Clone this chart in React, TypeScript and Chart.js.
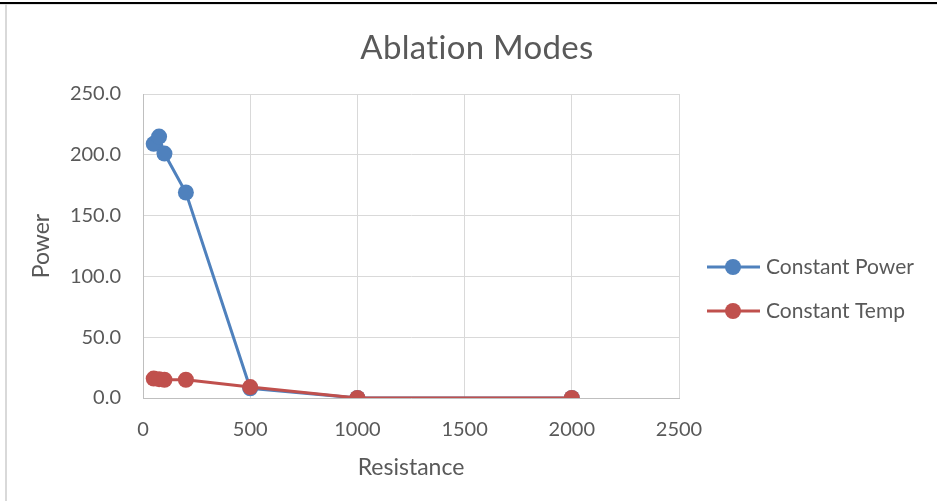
import React, { useEffect, useRef } from "react";
import { Chart, registerables } from "chart.js";

Chart.register(...registerables);

const resistance = [50, 75, 100, 200, 500, 1000, 2000];
const constantPower = [209, 215, 201, 169, 8, 0, 0];
const constantTemp = [16, 15.5, 15, 15, 9, 0, 0];
const seriesNames = ["Constant Power", "Constant Temp"];
const seriesColors = ["#4F81BD", "#C0504D"];
const chartTitle = "Ablation Modes";
const xTitle = "Resistance";
const yTitle = "Power";

const FONT = "Lato, 'Open Sans', sans-serif";
const TEXT = "#595959";

const legendPlugin = {
  id: "sideLegend",
  afterDraw(chart: any) {
    const ctx = chart.ctx;
    const rows = [267, 311];
    chart.data.datasets.forEach((ds: any, i: number) => {
      const y = rows[i];
      ctx.save();
      ctx.strokeStyle = ds.borderColor;
      ctx.lineWidth = 3;
      ctx.beginPath();
      ctx.moveTo(707, y);
      ctx.lineTo(760, y);
      ctx.stroke();
      ctx.fillStyle = ds.backgroundColor;
      ctx.beginPath();
      ctx.arc(733, y, 8, 0, Math.PI * 2);
      ctx.fill();
      ctx.fillStyle = TEXT;
      ctx.font = `21px ${FONT}`;
      ctx.textBaseline = "middle";
      ctx.textAlign = "left";
      ctx.fillText(ds.label, 766, y);
      ctx.restore();
    });
    // chart title, centred on the whole chart box
    ctx.save();
    ctx.fillStyle = TEXT;
    ctx.font = `33px ${FONT}`;
    ctx.textAlign = "center";
    ctx.textBaseline = "middle";
    try {
      (ctx as any).letterSpacing = "0.3px";
    } catch (e) {}
    ctx.fillText(chartTitle, 477, 48);
    ctx.restore();
  },
};

export default function App() {
  const ref = useRef<HTMLCanvasElement | null>(null);

  useEffect(() => {
    document.body.style.margin = "0";
    if (!ref.current) return;
    const series = [constantPower, constantTemp];
    const chart = new Chart(ref.current, {
      type: "scatter",
      data: {
        datasets: series.map((vals, i) => ({
          label: seriesNames[i],
          data: resistance.map((x, j) => ({ x, y: vals[j] })),
          showLine: true,
          order: series.length - 1 - i,
          borderColor: seriesColors[i],
          backgroundColor: seriesColors[i],
          borderWidth: 3,
          pointRadius: 8,
          pointHoverRadius: 8,
          pointBorderWidth: 0,
        })),
      },
      options: {
        animation: false,
        responsive: false,
        devicePixelRatio: 1,
        layout: { padding: { left: 0, right: 258, top: 94, bottom: 0 } },
        plugins: {
          legend: { display: false },
          tooltip: { enabled: false },
          title: { display: false },
        },
        scales: {
          x: {
            type: "linear",
            min: 0,
            max: 2500,
            ticks: {
              stepSize: 500,
              color: TEXT,
              font: { family: FONT, size: 20 },
              padding: 20,
              maxRotation: 0,
              callback: (v: any) => String(v),
            },
            grid: { color: "#d9d9d9", drawTicks: false, lineWidth: 1 },
            border: { color: "#bfbfbf" },
            title: {
              display: true,
              text: xTitle,
              color: TEXT,
              font: { family: FONT, size: 23 },
              padding: { top: 0, bottom: 20 },
            },
            afterFit(scale: any) {
              scale.height = 103;
            },
          },
          y: {
            type: "linear",
            min: 0,
            max: 250,
            ticks: {
              stepSize: 50,
              color: TEXT,
              font: { family: FONT, size: 20 },
              padding: 22,
              callback: (v: any) => Number(v).toFixed(1),
            },
            grid: { color: "#d9d9d9", drawTicks: false, lineWidth: 1 },
            border: { color: "#bfbfbf" },
            title: {
              display: true,
              text: yTitle,
              color: TEXT,
              font: { family: FONT, size: 23 },
              padding: { top: 28, bottom: 0 },
            },
            afterFit(scale: any) {
              scale.width = 143;
            },
          },
        },
      },
      plugins: [legendPlugin],
    });
    return () => chart.destroy();
  }, []);

  return (
    <div style={{ position: "relative", width: 937, height: 501, background: "#fff", overflow: "hidden" }}>
      <canvas ref={ref} width={937} height={501} style={{ position: "absolute", left: 0, top: 0 }} />
      <div style={{ position: "absolute", left: 0, top: 2, width: 937, height: 2, background: "#000" }} />
      <div style={{ position: "absolute", left: 0, top: 4, width: 937, height: 1, background: "#e3e3e3" }} />
      <div style={{ position: "absolute", left: 5, top: 4, width: 2, height: 497, background: "#d9d9d9" }} />
    </div>
  );
}
